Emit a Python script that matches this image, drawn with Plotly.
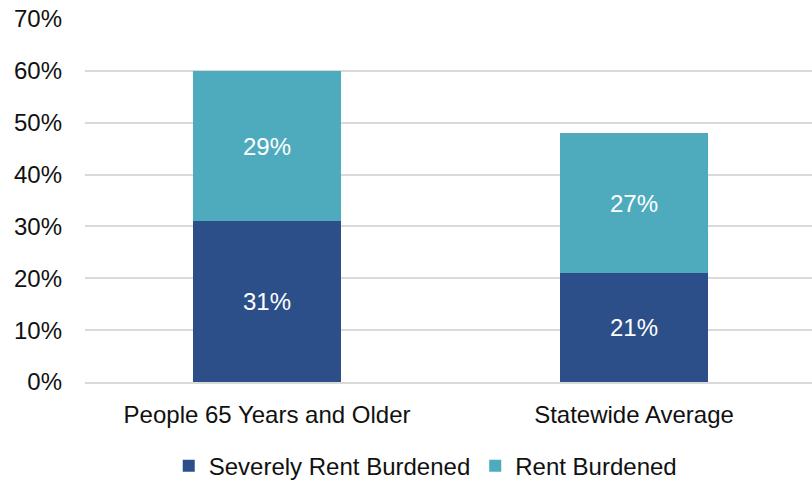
import plotly.graph_objects as go

categories = ["People 65 Years and Older", "Statewide Average"]
severely_burdened = [31, 21]
rent_burdened = [29, 27]
y_ticks = [0, 10, 20, 30, 40, 50, 60, 70]
y_tick_labels = [f"{v}%" for v in y_ticks]

font_family = "Liberation Sans, Arial, sans-serif"
font_size = 24
bar_width = 0.403

fig = go.Figure()
fig.add_trace(go.Bar(
    name="Severely Rent Burdened",
    x=categories,
    y=severely_burdened,
    marker=dict(color="#2C4F8A", line=dict(width=0)),
    text=[f"{v}%" for v in severely_burdened],
    textposition="inside",
    insidetextanchor="middle",
    textfont=dict(color="white", size=font_size, family=font_family),
    width=bar_width,
))
fig.add_trace(go.Bar(
    name="Rent Burdened",
    x=categories,
    y=rent_burdened,
    marker=dict(color="#4EABBD", line=dict(width=0)),
    text=[f"{v}%" for v in rent_burdened],
    textposition="inside",
    insidetextanchor="middle",
    textfont=dict(color="white", size=font_size, family=font_family),
    width=bar_width,
))

fig.update_layout(
    barmode="stack",
    width=812,
    height=481,
    margin=dict(l=85, r=0, t=19, b=99, autoexpand=False),
    paper_bgcolor="white",
    plot_bgcolor="white",
    font=dict(family=font_family, size=font_size, color="#111111"),
    showlegend=True,
    legend=dict(
        orientation="h",
        x=0.468, xanchor="center",
        y=-0.17, yanchor="top",
        font=dict(size=font_size),
        itemsizing="constant",
        traceorder="normal",
    ),
    uniformtext=dict(minsize=font_size, mode="show"),
)
fig.update_yaxes(
    range=[0, 70],
    tickvals=y_ticks,
    ticktext=y_tick_labels,
    showgrid=True,
    gridcolor="#D9D9D9",
    gridwidth=1.5,
    zeroline=False,
    showline=False,
    ticks="",
    ticklabelstandoff=22,
    tickfont=dict(size=font_size),
    automargin=False,
)
fig.update_xaxes(
    range=[-0.496, 1.485],
    showline=True,
    linecolor="#D9D9D9",
    linewidth=1.5,
    ticks="",
    ticklabelstandoff=10,
    tickfont=dict(size=font_size),
    automargin=False,
)

fig.write_html("out.html")
